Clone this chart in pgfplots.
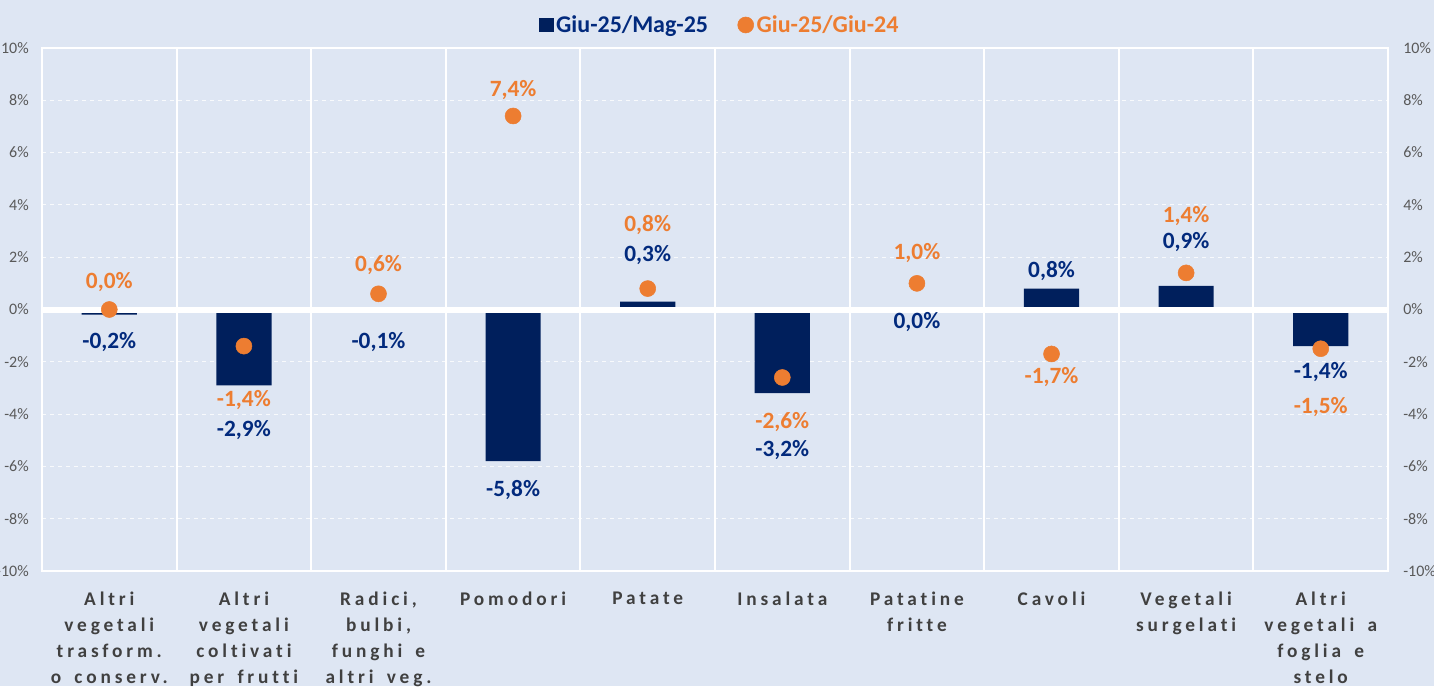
\documentclass[border=0pt]{standalone}
\usepackage{fontspec}
\setmainfont{Carlito}
\newfontfamily\catfont[LetterSpace=20, WordSpace=1.6, Ligatures=NoCommon]{Carlito}
\usepackage{pgfplots}
\pgfplotsset{compat=1.18}
\definecolor{bg}{RGB}{222,230,243}
\definecolor{navy}{RGB}{0,31,92}
\definecolor{navytxt}{RGB}{2,42,125}
\definecolor{orng}{RGB}{237,125,49}
\definecolor{tickc}{RGB}{89,89,89}
\definecolor{catc}{RGB}{64,64,64}
\begin{document}
\begin{tikzpicture}
\useasboundingbox (0pt,0pt) rectangle (1075.5pt,514.5pt);
\fill[bg] (0pt,0pt) rectangle (1075.5pt,514.5pt);
\clip (0pt,0pt) rectangle (1075.5pt,514.5pt);
\begin{axis}[
  at={(31.5pt,86.25pt)}, anchor=south west,
  scale only axis, width=1009.5pt, height=392.25pt,
  xmin=-0.5, xmax=9.5, ymin=-10, ymax=10,
  ytick={-10,-8,...,10},
  yticklabel={\pgfmathprintnumber{\tick}\%},
  /pgf/number format/assume math mode=true,
  xtick={0,...,9},
  xticklabels={{Altri\\vegetali\\trasform.\\o conserv.},{Altri\\vegetali\\coltivati\\per frutti},{Radici,\\bulbi,\\funghi e\\altri veg.},{Pomodori},{Patate},{Insalata},{Patatine\\fritte},{Cavoli},{Vegetali\\surgelati},{Altri\\vegetali a\\foglia e\\stelo}},
  minor xtick={0.5,1.5,...,8.5},
  xminorgrids, ymajorgrids, xmajorgrids=false,
  major grid style={white, dashed, line width=0.6pt, opacity=0.8},
  minor grid style={white, line width=1.5pt},
  major tick length=0pt, minor tick length=0pt,
  axis line style={white, line width=1.5pt},
  tick label style={font=\fontsize{12}{14}\selectfont, text=tickc},
  yticklabel style={inner sep=0pt, xshift=-9.75pt},
  xticklabel style={font=\catfont\bfseries\fontsize{14.5}{19.5}\selectfont, text=catc, align=center, inner sep=0pt, anchor=north, yshift=-15.5pt},
  legend style={at={(0.5037,1.044)}, anchor=center, draw=none, fill=none, legend columns=2,
    font=\bfseries\fontsize{18}{20}\selectfont,
    /tikz/every even column/.append style={column sep=20pt}},
]
\addplot[ybar, bar width=0.41, fill=navy, draw=none,
  legend image code/.code={\fill[navy] (-1pt,-5pt) rectangle (10pt,5pt);}]
  coordinates {(0,-0.2) (1,-2.9) (2,-0.1) (3,-5.8) (4,0.3) (5,-3.2) (6,0.0) (7,0.8) (8,0.9) (9,-1.4)};
\addlegendentry{\textcolor{navytxt}{Giu-25/Mag-25}}
\draw[white, line width=4.5pt] (axis cs:-0.5,0) -- (axis cs:9.5,0);
\addplot[only marks, mark=*, mark size=6pt, color=orng,
  legend image code/.code={\fill[orng] (5pt,0pt) circle (6pt);}]
  coordinates {(0,0.0) (1,-1.4) (2,0.6) (3,7.4) (4,0.8) (5,-2.6) (6,1.0) (7,-1.7) (8,1.4) (9,-1.5)};
\addlegendentry{\textcolor{orng}{Giu-25/Giu-24}}
\addplot[forget plot, draw=none, mark=none, nodes near coords={\pgfplotspointmeta}, point meta=explicit symbolic,
  nodes near coords style={anchor=center, inner sep=0pt, font=\bfseries\fontsize{17.5}{20}\selectfont, text=navytxt}]
  table[meta=lab] {
x y lab
0 -1.24 {-0,2\%}
1 -4.61 {-2,9\%}
2 -1.24 {-0,1\%}
3 -6.90 {-5,8\%}
4 2.08 {0,3\%}
5 -5.37 {-3,2\%}
6 -0.48 {0,0\%}
7 1.47 {0,8\%}
8 2.58 {0,9\%}
9 -2.39 {-1,4\%}
};
\addplot[forget plot, draw=none, mark=none, nodes near coords={\pgfplotspointmeta}, point meta=explicit symbolic,
  nodes near coords style={anchor=center, inner sep=0pt, font=\bfseries\fontsize{17.5}{20}\selectfont, text=orng}]
  table[meta=lab] {
x y lab
0 1.05 {0,0\%}
1 -3.46 {-1,4\%}
2 1.70 {0,6\%}
3 8.39 {7,4\%}
4 3.23 {0,8\%}
5 -4.30 {-2,6\%}
6 2.16 {1,0\%}
7 -2.57 {-1,7\%}
8 3.58 {1,4\%}
9 -3.73 {-1,5\%}
};
\end{axis}
\begin{axis}[
  at={(31.5pt,86.25pt)}, anchor=south west,
  scale only axis, width=1009.5pt, height=392.25pt,
  xmin=-0.5, xmax=9.5, ymin=-10, ymax=10,
  axis y line*=right, axis x line=none,
  ytick={-10,-8,...,10},
  yticklabel={\pgfmathprintnumber{\tick}\%},
  /pgf/number format/assume math mode=true,
  major tick length=0pt,
  axis line style={white, line width=1.5pt},
  tick label style={font=\fontsize{12}{14}\selectfont, text=tickc},
  yticklabel style={inner sep=0pt, xshift=11.25pt, anchor=west},
]
\addplot[draw=none] coordinates {(0,0)};
\end{axis}
\end{tikzpicture}
\end{document}
